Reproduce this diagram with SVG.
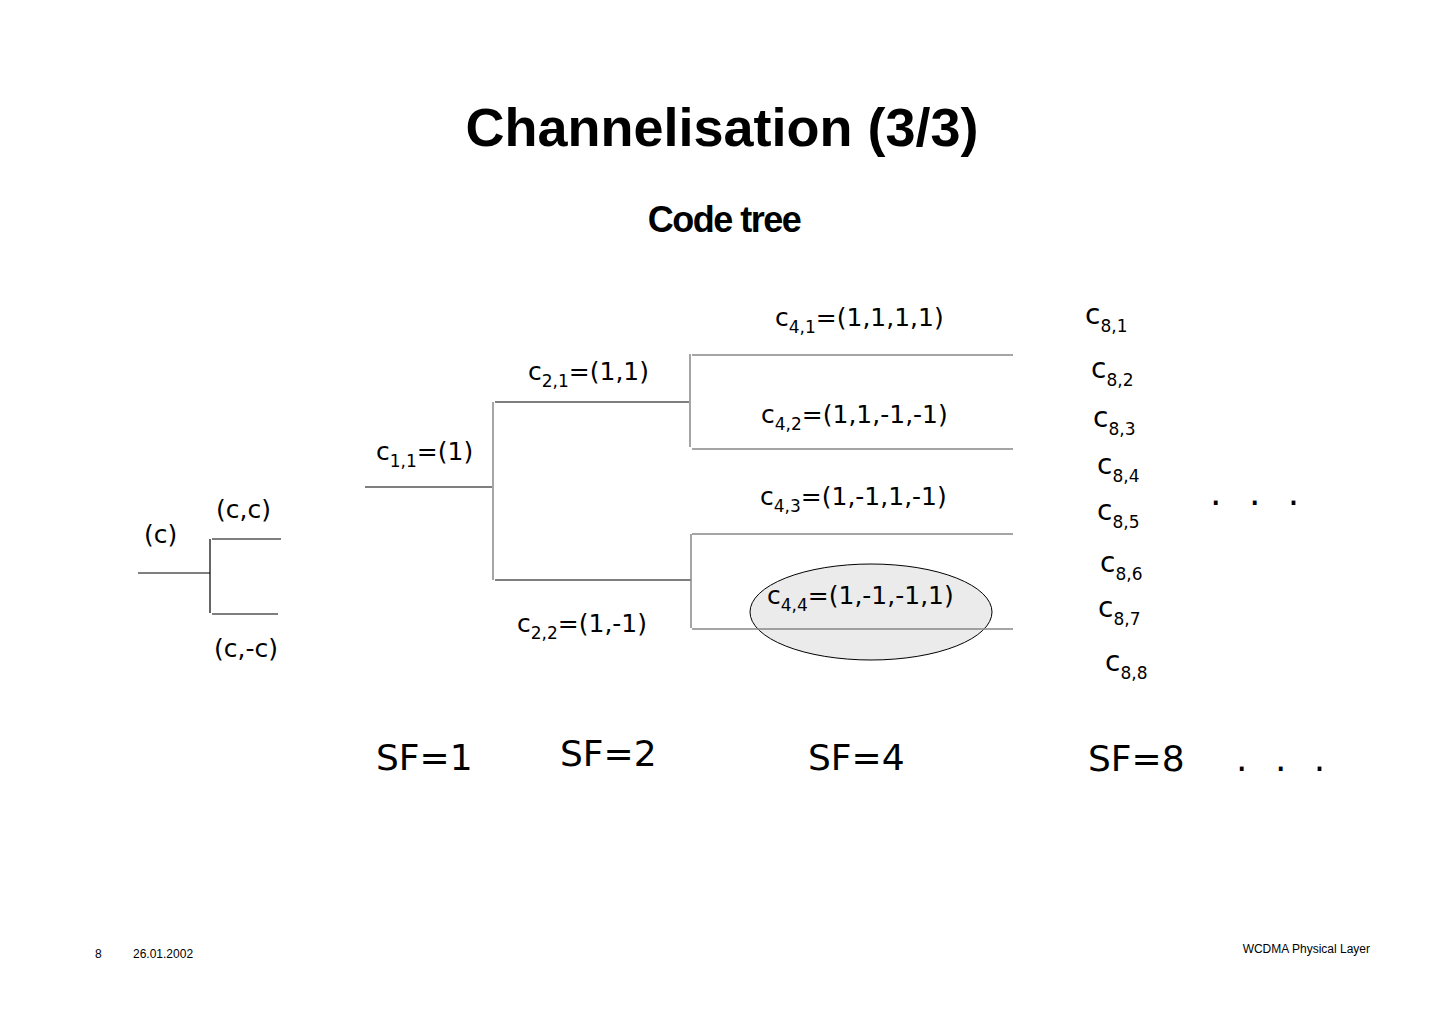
<svg xmlns="http://www.w3.org/2000/svg" width="1449" height="1024" viewBox="0 0 1449 1024">
<style>
.l{stroke:#000;stroke-width:1.2;fill:none}
.g{stroke:#888;stroke-width:1.5;fill:none}
.t{font-family:"DejaVu Sans",sans-serif;font-size:25px;fill:#000}
.c8{font-family:"DejaVu Sans",sans-serif;font-size:28px;fill:#000}
.s{font-size:17px}
.sf{font-family:"DejaVu Sans",sans-serif;font-size:36px;fill:#000}
.f{font-family:"Liberation Sans",sans-serif;font-size:12px;fill:#000}
</style>
<rect width="1449" height="1024" fill="#fff"/>
<text x="722" y="146" text-anchor="middle" font-family="Liberation Sans,sans-serif" font-weight="bold" font-size="54">Channelisation (3/3)</text>
<text x="724" y="232" text-anchor="middle" font-family="Liberation Sans,sans-serif" font-weight="bold" font-size="36" letter-spacing="-1.5">Code tree</text>
<g id="highlight"><ellipse cx="871" cy="612" rx="121" ry="48" fill="#ebebeb" stroke="#000" stroke-width="1"/></g>
<g id="connectors">
<path class="l" d="M138 573H210M210 539V613M212 539H281M212 614H278"/>
<path class="l" d="M365 487H492"/>
<path class="g" d="M493 402V580"/>
<path class="l" d="M495 402H689M495 580H691"/>
<path class="g" d="M690 354V447M691 534V628"/>
<path class="g" d="M692 355H1013M692 449H1013M692 534H1013M692 629H1013"/>
</g>
<g id="left">
<text class="t" x="144" y="543">(c)</text>
<text class="t" x="216" y="518">(c,c)</text>
<text class="t" x="214" y="657">(c,-c)</text>
</g>
<g id="c11"><text class="t" x="376" y="460">c<tspan class="s" dy="7">1,1</tspan><tspan dy="-7">=(1)</tspan></text></g>
<g id="c21"><text class="t" x="528" y="380">c<tspan class="s" dy="7">2,1</tspan><tspan dy="-7">=(1,1)</tspan></text></g>
<g id="c22"><text class="t" x="517" y="632">c<tspan class="s" dy="7">2,2</tspan><tspan dy="-7">=(1,-1)</tspan></text></g>
<g id="c41"><text class="t" x="775" y="326">c<tspan class="s" dy="7">4,1</tspan><tspan dy="-7">=(1,1,1,1)</tspan></text></g>
<g id="c42"><text class="t" x="761" y="423">c<tspan class="s" dy="7">4,2</tspan><tspan dy="-7">=(1,1,-1,-1)</tspan></text></g>
<g id="c43"><text class="t" x="760" y="505">c<tspan class="s" dy="7">4,3</tspan><tspan dy="-7">=(1,-1,1,-1)</tspan></text></g>
<g id="c44"><text class="t" x="767" y="604">c<tspan class="s" dy="7">4,4</tspan><tspan dy="-7">=(1,-1,-1,1)</tspan></text></g>
<g id="c8">
<text class="c8" x="1085" y="324">c<tspan class="s" dy="8">8,1</tspan></text>
<text class="c8" x="1091" y="378">c<tspan class="s" dy="8">8,2</tspan></text>
<text class="c8" x="1093" y="427">c<tspan class="s" dy="8">8,3</tspan></text>
<text class="c8" x="1097" y="474">c<tspan class="s" dy="8">8,4</tspan></text>
<text class="c8" x="1097" y="520">c<tspan class="s" dy="8">8,5</tspan></text>
<text class="c8" x="1100" y="572">c<tspan class="s" dy="8">8,6</tspan></text>
<text class="c8" x="1098" y="617">c<tspan class="s" dy="8">8,7</tspan></text>
<text class="c8" x="1105" y="671">c<tspan class="s" dy="8">8,8</tspan></text>
<text class="sf" x="1210" y="505" letter-spacing="8">. . .</text>
</g>
<g id="sf">
<text class="sf" x="376" y="770">SF=1</text>
<text class="sf" x="560" y="766">SF=2</text>
<text class="sf" x="808" y="770">SF=4</text>
<text class="sf" x="1088" y="771">SF=8</text>
<text class="sf" x="1236" y="771" letter-spacing="8">. . .</text>
</g>
<text class="f" x="95" y="958">8</text>
<text class="f" x="133" y="958">26.01.2002</text>
<text class="f" x="1370" y="953" text-anchor="end">WCDMA Physical Layer</text>
</svg>
